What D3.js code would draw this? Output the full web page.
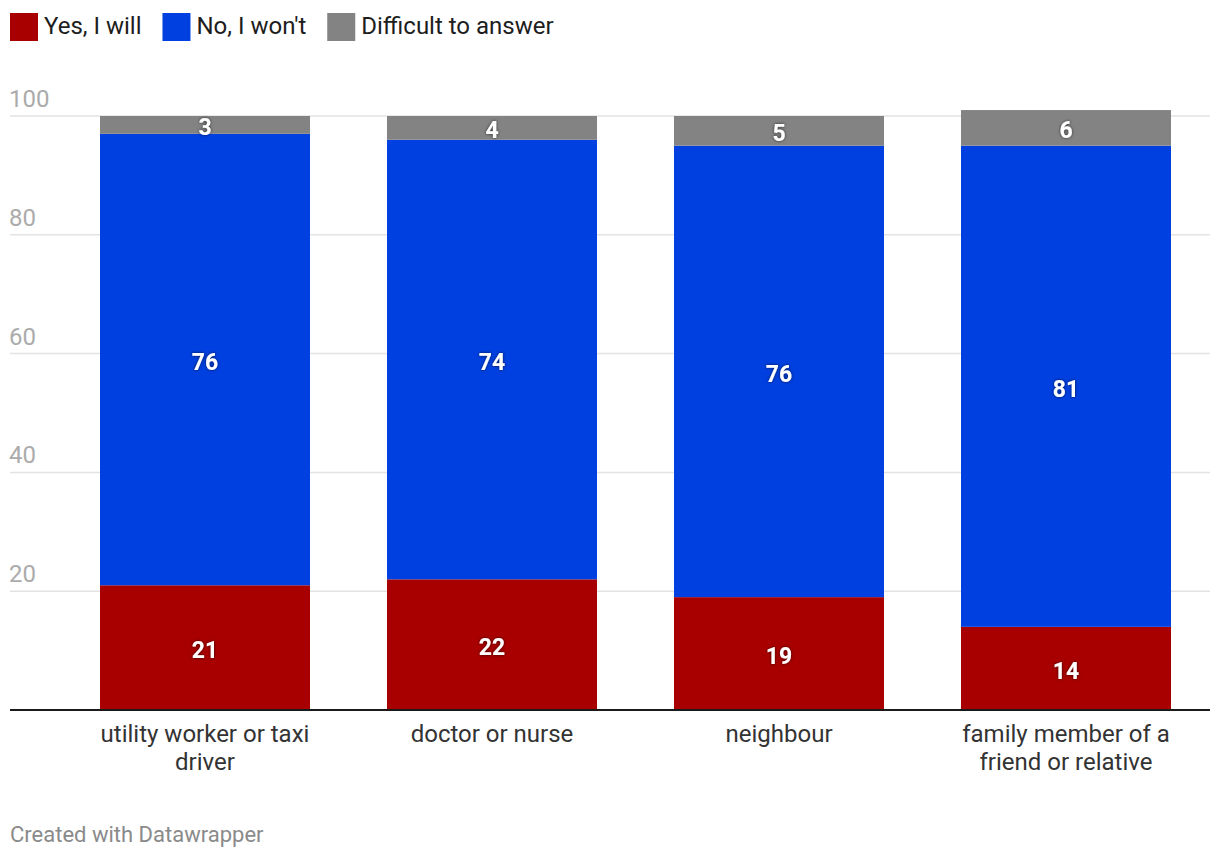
<!DOCTYPE html>
<html>
<head>
<meta charset="utf-8">
<script src="https://cdn.jsdelivr.net/npm/d3@7"></script>
<style>
  html, body { margin: 0; padding: 0; background: #fff; }
  svg { display: block; font-family: Roboto, "Noto Sans", sans-serif; }
</style>
</head>
<body>
<svg id="chart" width="1220" height="860"></svg>
<script>
const categories = [["utility worker or taxi", "driver"], ["doctor or nurse"], ["neighbour"], ["family member of a", "friend or relative"]];
const seriesNames = ["Yes, I will", "No, I won't", "Difficult to answer"];
const yesValues = [21, 22, 19, 14];
const noValues = [76, 74, 76, 81];
const difficultValues = [3, 4, 5, 6];
const yTicks = [0, 20, 40, 60, 80, 100];
const footer = "Created with Datawrapper";

const colors = ["#a80000", "#0040e0", "#838383"];
const seriesValues = [yesValues, noValues, difficultValues];

const svg = d3.select("#chart");
const left = 10, right = 1210;

const x = d3.scaleBand()
  .domain(d3.range(categories.length))
  .range([61.5, 1209.5])
  .paddingInner(77 / 287)
  .paddingOuter(77 / 287 / 2);

const y = d3.scaleLinear().domain([0, 100]).range([710, 116]);

// legend
const legend = svg.append("g");
let lx = 10;
seriesNames.forEach((name, i) => {
  legend.append("rect").attr("x", lx).attr("y", 13).attr("width", 28).attr("height", 28).attr("fill", colors[i]);
  const t = legend.append("text").attr("x", lx + 34).attr("y", 34)
    .attr("font-size", 24).attr("fill", "#1d1d1d").text(name);
  lx += 34 + t.node().getComputedTextLength() + 21;
});

// gridlines & ticks
const grid = svg.append("g");
yTicks.filter(d => d > 0).forEach(d => {
  grid.append("line").attr("x1", left).attr("x2", right)
    .attr("y1", y(d)).attr("y2", y(d))
    .attr("stroke", "#e3e3e3").attr("stroke-width", 1.5);
  grid.append("text").attr("x", 9).attr("y", y(d) - 9)
    .attr("font-size", 24).attr("fill", "#ababab").text(d);
});

// stacked bars
const stackData = categories.map((c, i) => ({ i, s0: yesValues[i], s1: noValues[i], s2: difficultValues[i] }));
const stack = d3.stack().keys(["s0", "s1", "s2"])(stackData);

const barG = svg.append("g");
stack.forEach((layer, si) => {
  barG.selectAll(null).data(layer).enter().append("rect")
    .attr("x", d => x(d.data.i))
    .attr("width", x.bandwidth())
    .attr("y", d => y(d[1]))
    .attr("height", d => y(d[0]) - y(d[1]))
    .attr("fill", colors[si]);
});

const defs = svg.append("defs");
const f = defs.append("filter").attr("id", "shadow").attr("x", "-50%").attr("y", "-50%").attr("width", "200%").attr("height", "200%");
f.append("feDropShadow").attr("dx", 0).attr("dy", 0).attr("stdDeviation", 1.5).attr("flood-color", "#000").attr("flood-opacity", 0.7);

stack.forEach((layer, si) => {
  barG.selectAll(null).data(layer).enter().append("text")
    .attr("x", d => x(d.data.i) + x.bandwidth() / 2)
    .attr("y", d => (y(d[0]) + y(d[1])) / 2)
    .attr("dy", "0.45em")
    .attr("text-anchor", "middle")
    .attr("font-size", 23).attr("font-weight", "bold")
    .attr("fill", "#fff")
    .attr("filter", "url(#shadow)")
    .text(d => seriesValues[si][d.data.i]);
});

// baseline
svg.append("line").attr("x1", left).attr("x2", right).attr("y1", y(0)).attr("y2", y(0))
  .attr("stroke", "#1a1a1a").attr("stroke-width", 2);

// category labels
const xAxis = svg.append("g");
categories.forEach((lines, i) => {
  const cx = x(i) + x.bandwidth() / 2;
  const t = xAxis.append("text")
    .attr("x", cx)
    .attr("y", 742)
    .attr("text-anchor", "middle")
    .attr("font-size", 24).attr("fill", "#333");
  lines.forEach((ln, j) => {
    t.append("tspan").attr("x", cx).attr("dy", j === 0 ? 0 : 28).text(ln);
  });
});

// footer
svg.append("text").attr("x", 10).attr("y", 842).attr("font-size", 22).attr("fill", "#8a8a8a").text(footer);
</script>
</body>
</html>
